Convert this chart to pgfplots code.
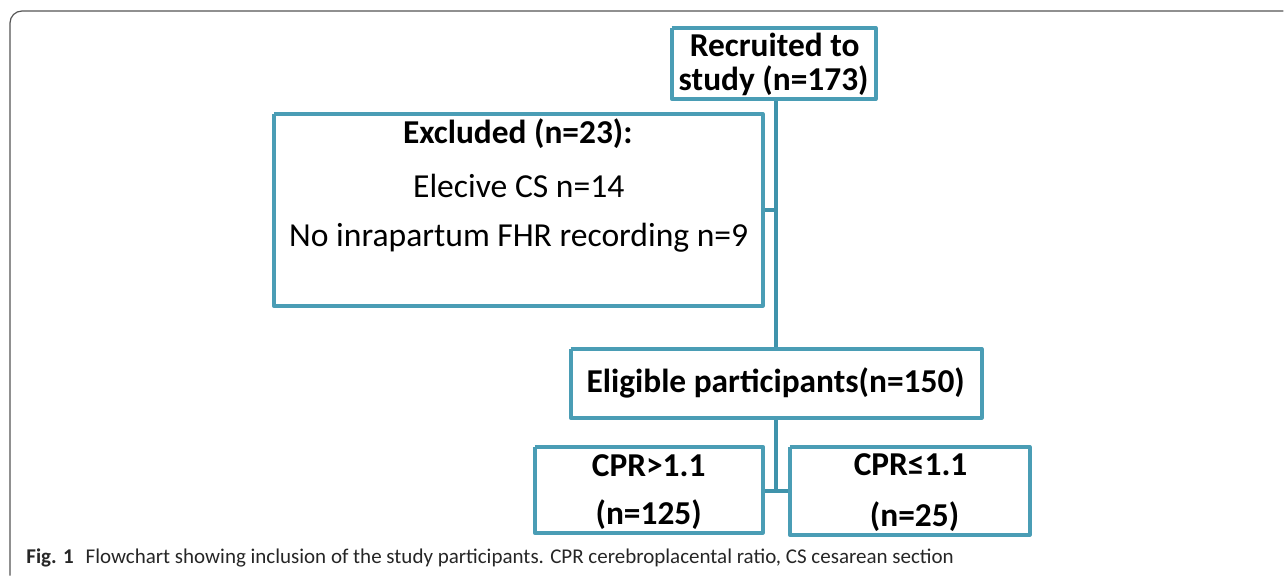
\documentclass[border=0pt]{standalone}
\usepackage{pgfplots}
\pgfplotsset{compat=1.18}
\usepackage{fontspec}
\setmainfont{Carlito}
\definecolor{boxc}{HTML}{4A9DB5}
\definecolor{linec}{HTML}{3F93AB}
\definecolor{framec}{HTML}{555555}
\begin{document}
\begin{tikzpicture}
\begin{axis}[
  width=642pt, height=288pt, scale only axis,
  xmin=0, xmax=1284, ymin=0, ymax=576, y dir=reverse,
  hide axis, clip=false,
]
\addplot[draw=none] coordinates {(0,0) (1284,576)};
% outer frame (open, cut at the right and bottom)
\addplot[draw=framec, line width=0.6pt, rounded corners=6pt] coordinates {(1284,11) (10,11) (10,576)};
% connectors
\addplot[draw=linec, line width=2pt] coordinates {(776,99) (776,349)};
\addplot[draw=linec, line width=2pt] coordinates {(763,210) (776,210)};
\addplot[draw=linec, line width=2pt] coordinates {(776,418) (776,491)};
\addplot[draw=linec, line width=2pt] coordinates {(763,491) (790,491)};
% boxes
\addplot[draw=boxc, line width=2pt, line join=round] coordinates {(672,28) (876,28) (876,99) (672,99) (672,28)};
\addplot[draw=boxc, line width=2pt, line join=round] coordinates {(274,114) (763,114) (763,306) (274,306) (274,114)};
\addplot[draw=boxc, line width=2pt, line join=round] coordinates {(571,349) (982,349) (982,418) (571,418) (571,349)};
\addplot[draw=boxc, line width=2pt, line join=round] coordinates {(535,447) (763,447) (763,533) (535,533) (535,447)};
\addplot[draw=boxc, line width=2pt, line join=round] coordinates {(790,447) (1030,447) (1030,535) (790,535) (790,447)};
% texts
\node[font=\fontsize{16.7}{18}\selectfont\bfseries] at (axis cs:775,45) {Recruited to};
\node[font=\fontsize{16.7}{18}\selectfont\bfseries] at (axis cs:774,81) {study (n=173)};
\node[font=\fontsize{16.7}{18}\selectfont\bfseries] at (axis cs:518,134) {Excluded (n=23):};
\node[font=\fontsize{16.8}{18}\selectfont] at (axis cs:519,186) {Elecive CS n=14};
\node[font=\fontsize{16.8}{18}\selectfont] at (axis cs:519,238) {No inrapartum FHR recording n=9};
\node[font=\fontsize{16.7}{18}\selectfont\bfseries] at (axis cs:776,383) {Eligible participants(n=150)};
\node[font=\fontsize{16.7}{18}\selectfont\bfseries] at (axis cs:649,466) {CPR>1.1};
\node[font=\fontsize{16.7}{18}\selectfont\bfseries] at (axis cs:649,515) {(n=125)};
\node[font=\fontsize{16.7}{18}\selectfont\bfseries] at (axis cs:911,465) {CPR≤1.1};
\node[font=\fontsize{16.7}{18}\selectfont\bfseries] at (axis cs:915,517) {(n=25)};
\node[anchor=west, inner sep=0pt, font=\fontsize{10.5}{12}\selectfont, text=black!85] at (axis cs:26,558) {\textbf{Fig. 1}\hspace{6pt}Flowchart showing inclusion of the study participants. CPR cerebroplacental ratio, CS cesarean section};
\end{axis}
\end{tikzpicture}
\end{document}
